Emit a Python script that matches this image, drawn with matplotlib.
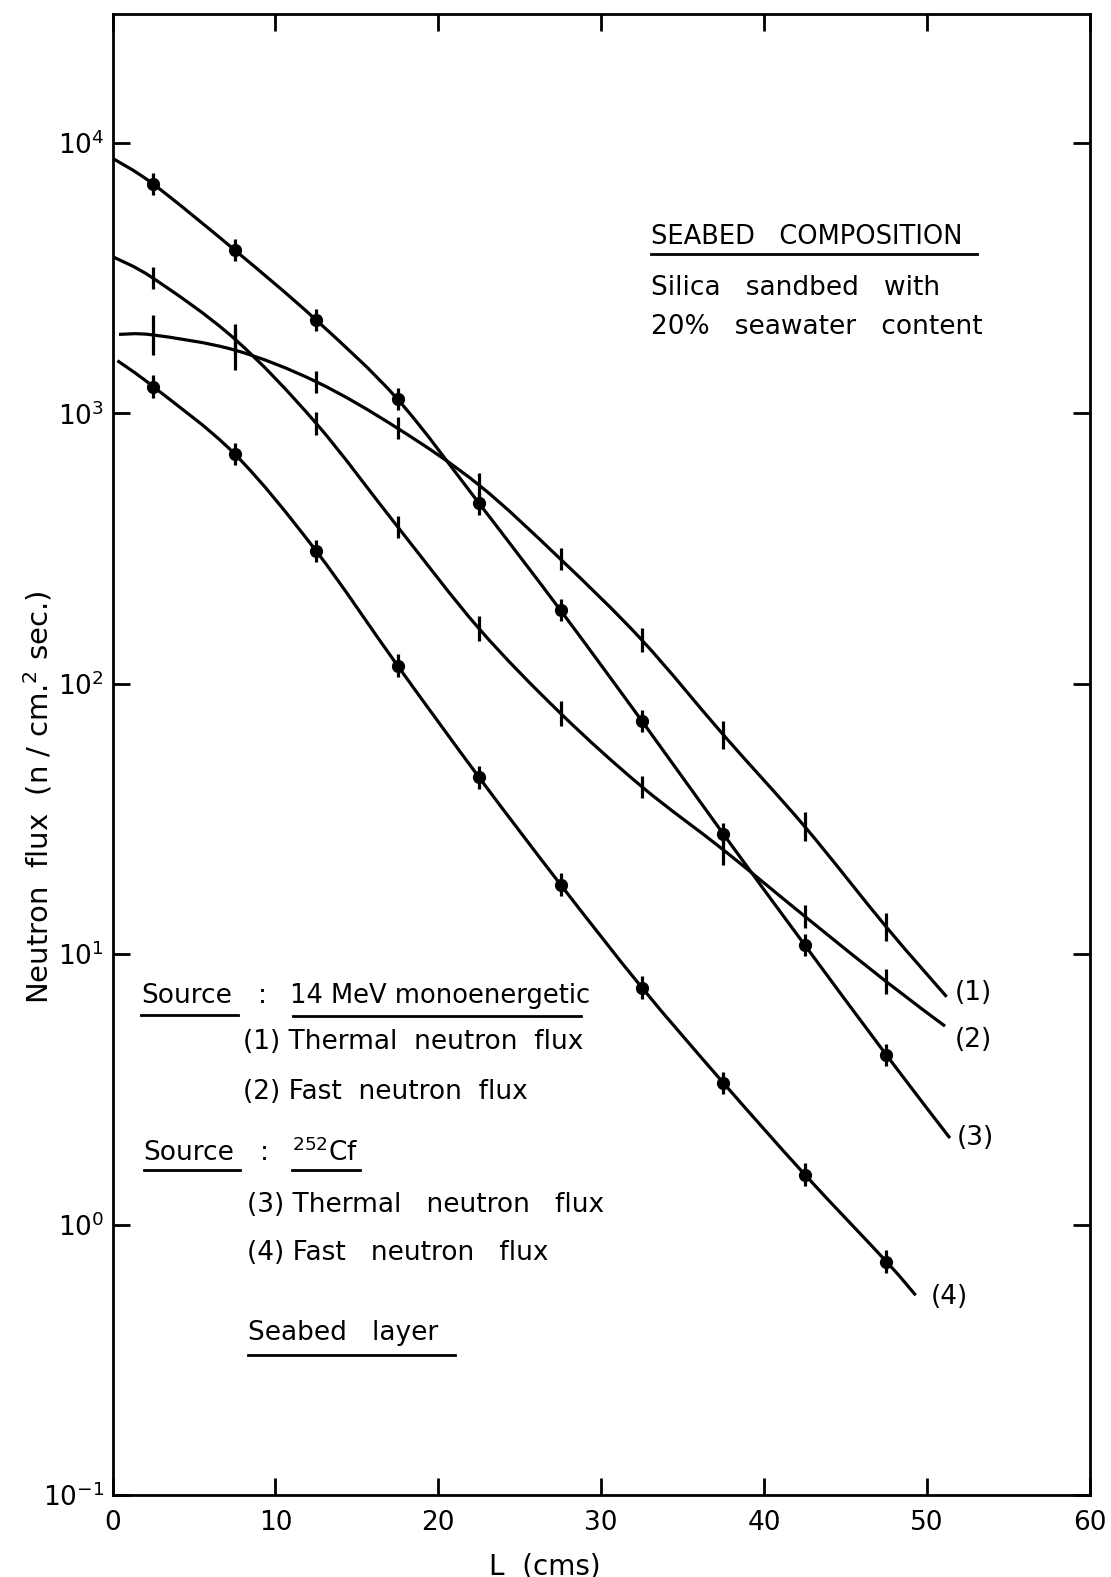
import numpy as np
import matplotlib
matplotlib.use('Agg')
import matplotlib.pyplot as plt
from matplotlib.path import Path
from matplotlib.patches import PathPatch
from matplotlib.lines import Line2D
from matplotlib.ticker import LogLocator, NullLocator

# measurement depths (cm)
L = [2.5, 7.5, 12.5, 17.5, 22.5, 27.5, 32.5, 37.5, 42.5, 47.5]

# 14 MeV source: (1) thermal, (2) fast
thermal_14 = [1950, 1715, 1310, 881, 543, 289, 145, 64.7, 29.6, 12.6]
thermal_14_err = [0.19, 0.19, 0.10, 0.10, 0.11, 0.10, 0.11, 0.13, 0.13, 0.13]
fast_14 = [3160, 1885, 919, 381, 160, 77.8, 41.6, 24.3, 13.8, 7.91]
fast_14_err = [0.10, 0.14, 0.10, 0.10, 0.11, 0.11, 0.10, 0.14, 0.10, 0.11]

# Cf-252 source: (3) thermal, (4) fast
thermal_cf = [7050, 4020, 2215, 1128, 465, 187, 72.8, 27.8, 10.8, 4.24]
thermal_cf_err = [0.10, 0.10, 0.10, 0.10, 0.10, 0.10, 0.10, 0.10, 0.10, 0.10]
fast_cf = [1256, 708, 310, 116.7, 45.1, 18.1, 7.52, 3.34, 1.53, 0.73]
fast_cf_err = [0.10, 0.10, 0.10, 0.10, 0.10, 0.10, 0.10, 0.10, 0.10, 0.10]

# where each fitted curve begins and ends, in order (1)..(4)
start_x = [0.4, 0.0, 0.0, 0.3]
start_y = [1960, 3800, 8780, 1567]
end_x = [51.2, 51.1, 51.4, 49.3]
end_y = [6.96, 5.42, 2.09, 0.548]

curve_names = ['(1)', '(2)', '(3)', '(4)']
name_x = [51.7, 51.7, 51.8, 50.2]
name_y = [7.2, 4.82, 2.09, 0.54]

W, H = 1111, 1577


def px(x, y):
    # pixel position -> figure fraction
    return x / W, 1 - y / H


def smooth_path(xs, ys):
    # Catmull-Rom through the points in (x, log y), drawn as cubic Beziers
    p = np.column_stack([xs, np.log10(ys)])
    q = np.vstack([p[0], p, p[-1]])
    verts = [p[0]]
    codes = [Path.MOVETO]
    for i in range(1, len(q) - 2):
        c1 = q[i] + (q[i + 1] - q[i - 1]) / 6
        c2 = q[i + 1] - (q[i + 2] - q[i]) / 6
        verts += [c1, c2, q[i + 1]]
        codes += [Path.CURVE4] * 3
    verts = np.array(verts)
    verts[:, 1] = 10 ** verts[:, 1]
    return Path(verts, codes)


fig = plt.figure(figsize=(W / 100, H / 100), dpi=100)
ax = fig.add_axes([112.5 / W, 1 - 1495 / H, (1090 - 112.5) / W, (1495 - 14) / H])
ax.set_yscale('log')
ax.set_xlim(0, 60)
ax.set_ylim(0.1, 3.0e4)

series = [(thermal_14, thermal_14_err, False),
          (fast_14, fast_14_err, False),
          (thermal_cf, thermal_cf_err, True),
          (fast_cf, fast_cf_err, True)]

for i, (vals, err, dots) in enumerate(series):
    xs = [start_x[i]] + L + [end_x[i]]
    ys = [start_y[i]] + vals + [end_y[i]]
    ax.add_patch(PathPatch(smooth_path(xs, ys), fill=False, lw=2.3,
                           edgecolor='black', capstyle='butt'))
    v = np.array(vals)
    e = np.array(err)
    ax.errorbar(L, v, yerr=[v - v / (1 + e), v * e],
                fmt='o' if dots else 'none', color='black', ms=8.5,
                elinewidth=2.3, capsize=0)
    ax.text(name_x[i], name_y[i], curve_names[i], fontsize=19,
            ha='left', va='center')

ax.set_xticks([0, 10, 20, 30, 40, 50, 60])
ax.yaxis.set_major_locator(LogLocator(base=10, numticks=10))
ax.yaxis.set_minor_locator(NullLocator())
ax.tick_params(direction='in', length=12, width=2, top=True, right=True,
               labelsize=19)
ax.tick_params(axis='x', pad=11)
ax.tick_params(axis='y', pad=6)
for s in ax.spines.values():
    s.set_linewidth(2)

fig.text(*px(38, 797), 'Neutron  flux  (n / cm.$^2$ sec.)', rotation=90,
         ha='center', va='center', fontsize=21)
fig.text(*px(545, 1566), 'L  (cms)', ha='center', va='center', fontsize=20)

# notes inside the frame
notes = [
    (651, 237, 'SEABED   COMPOSITION', 18.5),
    (651, 288, 'Silica   sandbed   with', 19),
    (651, 327, '20%   seawater   content', 19),
    (141, 996, 'Source', 19),
    (258, 996, ':', 19),
    (290, 996, '14 MeV monoenergetic', 18.5),
    (243, 1042, '(1) Thermal  neutron  flux', 19),
    (243, 1092, '(2) Fast  neutron  flux', 19),
    (143, 1153, 'Source', 19),
    (260, 1153, ':', 19),
    (292, 1153, '$^{252}$Cf', 19),
    (247, 1205, '(3) Thermal   neutron   flux', 19),
    (247, 1253, '(4) Fast   neutron   flux', 19),
    (248, 1333, 'Seabed   layer', 19),
]
for x, y, s, fs in notes:
    fig.text(*px(x, y), s, ha='left', va='center', fontsize=fs)

underlines = [(651, 977, 254), (141, 238, 1015), (293, 581, 1016),
              (144, 240, 1170), (292, 360, 1170), (248, 455, 1355)]
for x0, x1, y in underlines:
    a, b = px(x0, y)
    c, _ = px(x1, y)
    fig.add_artist(Line2D([a, c], [b, b], color='black', lw=2))

fig.savefig('out.png', dpi=100)
